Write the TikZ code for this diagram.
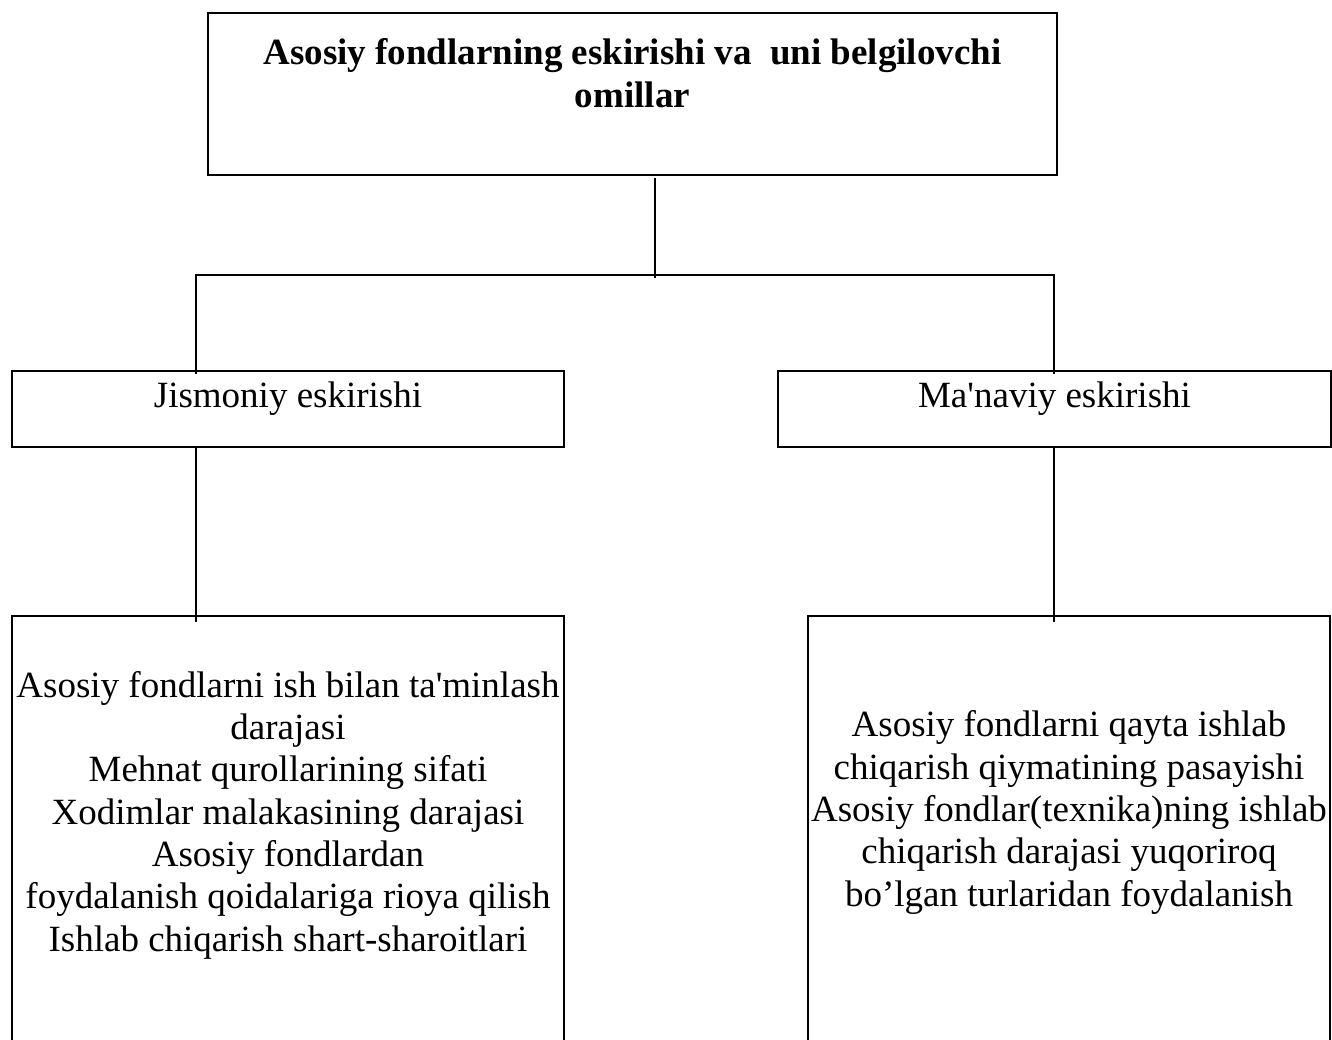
\documentclass[tikz,border=0pt]{standalone}
\usepackage{fontspec}
\setmainfont{Liberation Serif}
\begin{document}
\begin{tikzpicture}[x=1pt,y=-1pt,
  box/.style={draw, line width=1.8pt, inner sep=0pt, outer sep=0pt},
  txt/.style={font=\fontsize{37}{42.3}\selectfont, align=center, inner sep=0pt},
  conn/.style={line width=1.8pt}]
\useasboundingbox (0,0) rectangle (1332,1040);
\clip (0,0) rectangle (1332,1040);
% boxes
\node[box, minimum width=849, minimum height=162] (top) at (632.5,94) {};
\node[box, minimum width=552, minimum height=76] (jb) at (288,409) {};
\node[box, minimum width=553, minimum height=76] (mb) at (1054.5,409) {};
\node[box, minimum width=552, minimum height=460] (lb) at (288,846) {};
\node[box, minimum width=522, minimum height=460] (rb) at (1069,846) {};
% texts (base anchor = baseline of last line)
\node[txt, font=\fontsize{37}{43}\selectfont\bfseries, anchor=base] (toptext) at (632.5,108)
  {Asosiy fondlarning eskirishi va\ \ uni belgilovchi\\omillar};
\node[txt, anchor=base] (jt) at (288,407) {Jismoniy eskirishi};
\node[txt, anchor=base] (mt) at (1054.5,407) {Ma\textquotesingle naviy eskirishi};
\node[txt, anchor=base] (lt) at (288,951)
  {Asosiy fondlarni ish bilan ta\textquotesingle minlash\\darajasi\\Mehnat qurollarining sifati\\Xodimlar malakasining darajasi\\Asosiy fondlardan\\foydalanish qoidalariga rioya qilish\\Ishlab chiqarish shart-sharoitlari};
\node[txt, anchor=base] (rt) at (1069,906)
  {Asosiy fondlarni qayta ishlab\\chiqarish qiymatining pasayishi\\Asosiy fondlar(texnika)ning ishlab\\chiqarish darajasi yuqoriroq\\bo’lgan turlaridan foydalanish};
% connectors
\coordinate (stubtop) at (655,178);
\coordinate (stubbot) at (655,278);
\coordinate (hl) at (196,275);
\coordinate (hr) at (1054,275);
\draw[conn] (stubtop) -- (stubbot);
\draw[conn] ([yshift=-3pt]jb.north -| hl) -- (hl) -- (hr) -- ([yshift=-3pt]mb.north -| hr);
\draw[conn] (jb.south -| hl) -- ([yshift=-6pt]lb.north -| hl);
\draw[conn] (mb.south -| hr) -- ([yshift=-6pt]rb.north -| hr);
\end{tikzpicture}
\end{document}
